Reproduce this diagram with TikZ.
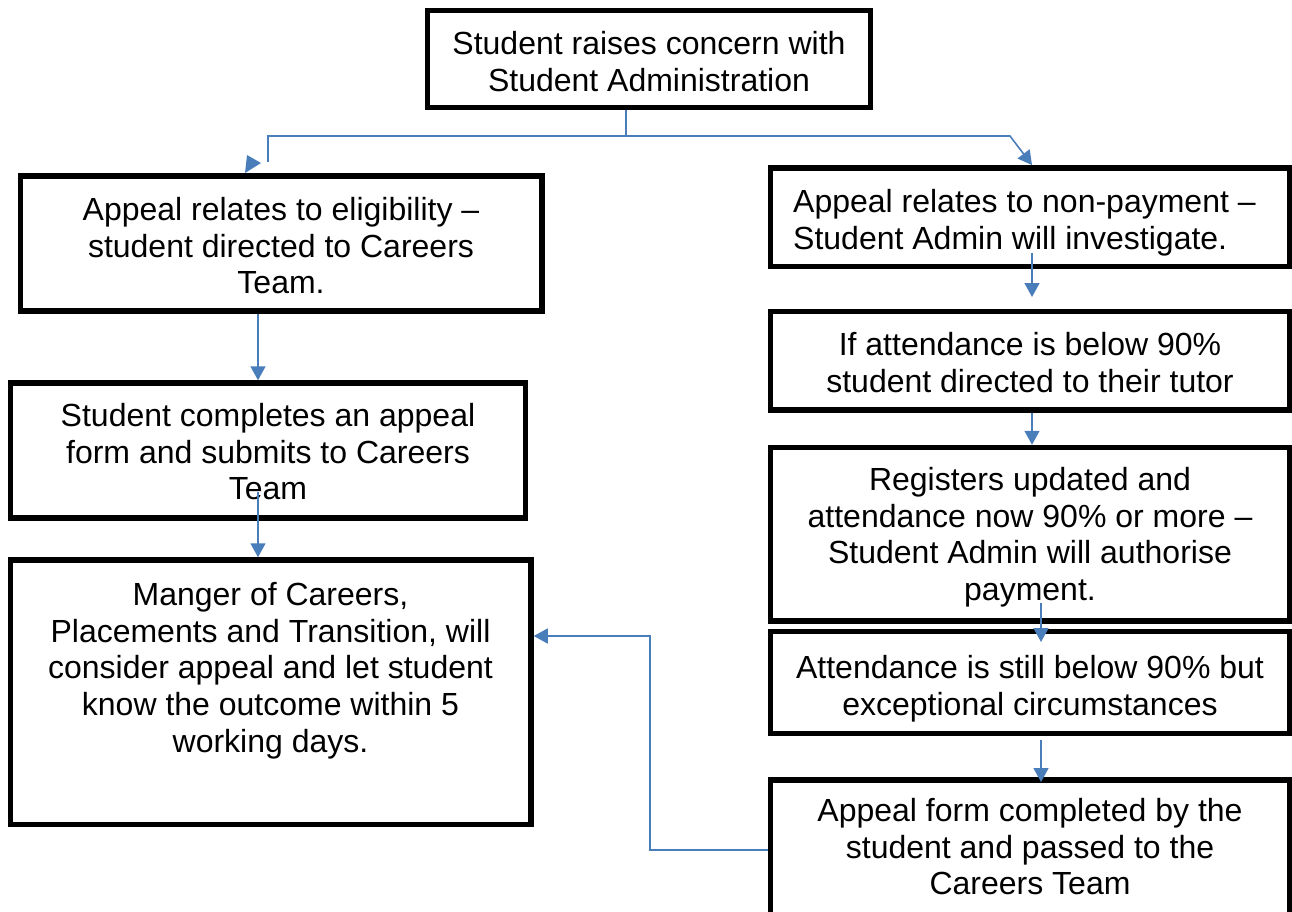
\documentclass[tikz,border=0pt]{standalone}
\usepackage{fontspec}
\setmainfont{Liberation Sans}
\usetikzlibrary{arrows.meta}
\definecolor{connblue}{RGB}{74,126,187}
\newcommand{\ftop}{\rule{0pt}{28pt}}
\begin{document}
\begin{tikzpicture}[x=1pt,y=-1pt,
  box/.style={draw=black,line width=5.5pt,rectangle,inner sep=0pt,fill=white},
  txt/.style={inner sep=0pt,align=center,anchor=north,font=\fontsize{32}{36.8}\selectfont},
  cl/.style={draw=connblue,line width=1.6pt},
  arr/.style={-{Triangle[length=14pt,width=15pt]}}]
\useasboundingbox (0,0) rectangle (1292,911);
\clip (0,0) rectangle (1292,911);
\fill[white] (0,0) rectangle (1292,911);

% boxes
\node[box,minimum width=443,minimum height=97] (b1) at (649,59) {};
\node[box,minimum width=521.5,minimum height=135] (b2) at (281.25,243.5) {};
\node[box,minimum width=515,minimum height=135] (b3) at (268,450.5) {};
\node[box,minimum width=520.5,minimum height=264.5] (b4) at (270.75,692.25) {};
\node[box,minimum width=519,minimum height=98.5] (bA) at (1030,217.25) {};
\node[box,minimum width=519,minimum height=98.5] (bB) at (1030,360.75) {};
\node[box,minimum width=519,minimum height=173.5] (bC) at (1030,534.25) {};
\node[box,minimum width=519,minimum height=102] (bD) at (1030,682.5) {};
\node[box,minimum width=519,minimum height=180] (bE) at (1030,870) {};

% texts
\node[txt] (t1) at (649,26) {\ftop Student raises concern with\\Student Administration};
\node[txt] (t2) at (281,192) {\ftop Appeal relates to eligibility --\\student directed to Careers\\Team.};
\node[txt] (t3) at (268,398) {\ftop Student completes an appeal\\form and submits to Careers\\Team};
\node[txt] (t4) at (270.5,577) {\ftop Manger of Careers,\\Placements and Transition, will\\consider appeal and let student\\know the outcome within 5\\working days.};
\node[txt,align=left,anchor=north west] (tA) at (793,184) {\ftop Appeal relates to non-payment --\\Student Admin will investigate.};
\node[txt] (tB) at (1030,327) {\ftop If attendance is below 90\%\\student directed to their tutor};
\node[txt] (tC) at (1030,462) {\ftop Registers updated and\\attendance now 90\% or more --\\Student Admin will authorise\\payment.};
\node[txt] (tD) at (1030,650) {\ftop Attendance is still below 90\% but\\exceptional circumstances};
\node[txt] (tE) at (1030,793) {\ftop Appeal form completed by the\\student and passed to the\\Careers Team};

% connector coordinates
\coordinate (xtop) at (626,0);
\coordinate (jc) at (626,136);
\coordinate (jl) at (268,136);
\coordinate (el) at (268,162);
\coordinate (jr) at (1010,136);
\coordinate (tr) at (1032,165);
\coordinate (xl) at (258,0);
\coordinate (s3) at (258,492);
\coordinate (xr) at (1032,0);
\coordinate (sA) at (1032,253);
\coordinate (eA) at (1032,297);
\coordinate (sC) at (1041,603);
\coordinate (eC) at (1041,642);
\coordinate (sD) at (1041,740);
\coordinate (eD) at (1041,782);
\coordinate (fb) at (650,0);
\coordinate (fy) at (0,636);

% connectors
\draw[cl] (b1.south -| xtop) -- (jc) -- (jl) -- (el);
\fill[connblue] (247,155) -- (261,163) -- (245,173) -- cycle;
\draw[cl,arr] (jc) -- (jr) -- (tr);
\draw[cl,arr] (b2.south -| xl) -- (b3.north -| xl);
\draw[cl,arr] (s3) -- (b4.north -| xl);
\draw[cl,arr] (sA) -- (eA);
\draw[cl,arr] (bB.south -| xr) -- (bC.north -| xr);
\draw[cl,arr] (sC) -- (eC);
\draw[cl,arr] (sD) -- (eD);
\draw[cl,arr] (bE.west |- 0,850) -- (fb |- 0,850) -- (fb |- fy) -- (b4.east |- fy);
\end{tikzpicture}
\end{document}
